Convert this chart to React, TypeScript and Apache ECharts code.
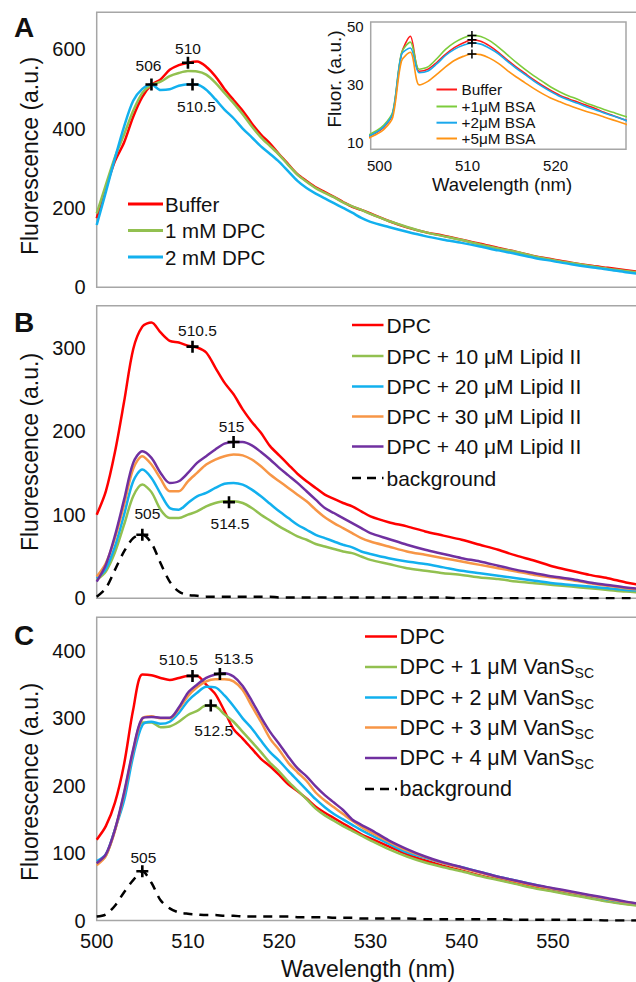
import React, { useEffect, useRef } from "react";
import * as echarts from "echarts";

// ---------- data ----------
const WAVELENGTHS = [
  500, 501, 502, 503, 504, 505, 506, 507, 508, 509, 510, 511, 512, 513, 514, 515,
  516, 517, 518, 519, 520, 521, 522, 523, 524, 525, 526, 527, 528, 529, 530,
  532, 534, 536, 538, 540, 542, 544, 546, 548, 550, 552, 554, 556, 558, 560,
];

// Panel A
const A_BUFFER = [
  174, 250, 318, 365, 430, 480, 510, 524, 548, 560, 566, 569, 556, 532, 500, 472,
  445, 413, 385, 362, 335, 310, 285, 268, 252, 240, 228, 215, 203, 195, 186,
  167, 151, 139, 130, 120, 110, 99, 89, 78, 70, 62, 55, 49, 43, 37,
];
const A_DPC1 = [
  186, 258, 328, 385, 445, 490, 510, 518, 532, 540, 545, 544, 536, 516, 490, 464,
  436, 405, 378, 356, 334, 308, 284, 266, 250, 238, 227, 214, 204, 195, 185,
  167, 152, 139, 129, 119, 108, 98, 89, 78, 69, 61, 54, 47, 41, 35,
];
const A_DPC2 = [
  157, 240, 325, 405, 470, 500, 511, 497, 499, 508, 512, 511, 498, 474, 448, 426,
  400, 378, 355, 336, 316, 292, 268, 250, 236, 224, 212, 200, 188, 175, 165,
  152, 140, 129, 120, 112, 103, 93, 84, 74, 66, 58, 51, 45, 38, 32,
];
const A_PEAK_WL = [506, 510, 510.5];
const A_PEAK_VAL = [511, 566, 511];

// Inset
const INSET_WAVELENGTHS = [
  498.5, 499.5, 500.5, 501.5, 502.5, 503.5, 504.5, 505.5, 506.5, 507.5, 508.5,
  509.5, 510.5, 511.5, 512.5, 513.5, 514.5, 515.5, 516.5, 517.5, 518.5, 519.5,
  520.5, 521.5, 522.5, 523.5, 524.5, 525.5, 526.5, 527.5, 528.5,
];
const INSET_BUFFER = [
  11.8, 13.2, 15.3, 19.8, 40.5, 46.5, 34.5, 35.2, 37.5, 40.3, 42.6, 44.2, 45.2, 44.8,
  43.2, 41, 38.4, 36, 33.8, 31.6, 29.6, 27.8, 26.2, 25, 23.9, 22.8, 21.7, 20.4, 19.3, 18.2, 17.2,
];
const INSET_BSA1 = [
  12.2, 13.8, 16, 20.5, 40.8, 44.5, 35.2, 36, 38.8, 42, 44.3, 45.9, 46.8, 46.4, 45,
  42.8, 40.2, 37.6, 35.2, 33, 31, 29, 27.4, 26, 24.9, 23.5, 22.5, 21.4, 20.4, 19.4, 18.5,
];
const INSET_BSA2 = [
  11.9, 13.3, 15.5, 20, 40.2, 42.5, 34, 34.6, 37, 39.9, 42, 43.4, 44.2, 43.8, 42.4,
  40.5, 38, 35.6, 33.4, 31.2, 29.2, 27.4, 25.8, 24.6, 23.5, 22.3, 21.3, 20.2, 19.2, 18.2, 17,
];
const INSET_BSA5 = [
  11.2, 12.6, 14.5, 18.6, 38, 41, 29.8, 31, 33.4, 36, 38.2, 39.6, 40.4, 40.2, 39,
  37.2, 34.8, 32.6, 30.6, 28.6, 26.8, 25.2, 24, 22.8, 21.7, 20.7, 19.8, 18.8, 17.8, 16.8, 15.8,
];
const INSET_PEAK_WL = [510.5, 510.5, 510.5, 510.5];
const INSET_PEAK_VAL = [46.8, 45.3, 44.2, 40.4];

// Panel B
const B_DPC = [
  100, 128, 175, 235, 298, 325, 330, 318, 308, 306, 302, 300, 294, 276, 258, 244,
  226, 211, 198, 182, 171, 160, 149, 140, 132, 124, 119, 114, 110, 104, 98,
  91, 86, 80, 75, 70, 64, 58, 51, 45, 38, 33, 28, 24, 19, 15,
];
const B_LIPID10 = [
  22, 32, 55, 88, 122, 136, 127, 106, 96, 96, 100, 104, 110, 114, 116, 116,
  114, 108, 100, 93, 86, 80, 74, 70, 65, 62, 59, 56, 54, 50, 46,
  41, 36, 33, 30, 28, 25, 23, 20, 18, 16, 14, 12, 10, 8, 7,
];
const B_LIPID20 = [
  24, 35, 62, 100, 140, 154, 144, 125, 108, 106, 114, 122, 126, 132, 137, 138,
  136, 130, 122, 113, 104, 96, 88, 82, 76, 72, 68, 64, 61, 56, 53,
  48, 44, 41, 37, 33, 30, 27, 24, 21, 18, 16, 14, 12, 10, 9,
];
const B_LIPID30 = [
  26, 42, 72, 112, 155, 170, 160, 143, 128, 128, 140, 150, 160, 166, 170, 172,
  171, 166, 158, 148, 140, 132, 124, 116, 106, 97, 90, 84, 78, 72, 68,
  62, 56, 52, 48, 44, 40, 36, 32, 28, 25, 22, 18, 15, 12, 10,
];
const B_LIPID40 = [
  20, 40, 75, 118, 162, 176, 168, 150, 138, 140, 150, 162, 170, 178, 185, 187,
  187, 183, 175, 166, 156, 147, 138, 128, 118, 108, 102, 96, 90, 84, 78,
  71, 64, 58, 53, 48, 44, 39, 34, 30, 26, 23, 19, 16, 13, 11,
];
const B_BACKGROUND = [
  2, 12, 34, 56, 72, 76, 66, 42, 20, 8, 4, 3, 2, 2, 2, 2,
  2, 2, 2, 2, 1, 1, 1, 1, 1, 1, 1, 1, 1, 1, 1,
  1, 1, 1, 1, 0, 0, 0, 0, 0, 0, 0, 0, 0, 0, 0,
];
const B_PEAK_WL = [510.5, 515, 514.5, 505];
const B_PEAK_VAL = [301, 187, 115, 76];

// Panel C
const C_DPC = [
  120, 140, 175, 232, 313, 365, 364, 360, 357, 360, 363, 363, 350, 336, 311, 284,
  270, 255, 240, 229, 216, 202, 192, 181, 169, 160, 152, 144, 136, 128, 122,
  110, 98, 89, 81, 74, 67, 61, 55, 49, 44, 39, 34, 29, 25, 22,
];
const C_VANS1 = [
  85, 96, 135, 185, 249, 294, 294, 287, 288, 295, 305, 311, 319, 318, 306, 295,
  280, 265, 250, 234, 221, 206, 193, 180, 166, 156, 148, 140, 133, 126, 119,
  106, 95, 86, 79, 73, 66, 60, 54, 48, 43, 38, 33, 28, 24, 21,
];
const C_VANS2 = [
  88, 98, 135, 178, 244, 290, 295, 292, 295, 308, 326, 338, 347, 346, 334, 318,
  300, 285, 267, 250, 237, 222, 208, 194, 180, 168, 158, 150, 142, 134, 127,
  114, 101, 93, 85, 79, 72, 65, 59, 53, 47, 42, 37, 31, 27, 24,
];
const C_VANS3 = [
  82, 96, 133, 188, 252, 300, 303, 300, 300, 314, 333, 346, 355, 358, 358, 355,
  342, 318, 295, 270, 253, 234, 220, 207, 190, 178, 168, 158, 148, 139, 131,
  117, 104, 94, 85, 78, 71, 64, 58, 52, 47, 42, 37, 32, 27, 24,
];
const C_VANS4 = [
  85, 98, 135, 190, 254, 300, 302, 301, 301, 316, 338, 350, 360, 365, 367, 362,
  348, 326, 302, 280, 262, 243, 226, 214, 199, 186, 175, 164, 150, 142, 135,
  119, 106, 95, 86, 79, 72, 65, 59, 53, 48, 43, 38, 33, 28, 24,
];
const C_BACKGROUND = [
  6, 9, 22, 42, 60, 73, 56, 30, 18, 12, 10, 9, 8, 8, 7, 7,
  6, 6, 6, 6, 6, 6, 5, 5, 5, 5, 4, 4, 4, 3, 3,
  3, 3, 2, 2, 2, 2, 2, 1, 1, 1, 1, 1, 0, 0, 0,
];
const C_PEAK_WL = [510.5, 513.5, 512.5, 505];
const C_PEAK_VAL = [363, 366, 319, 73];

// Tick labels
const X_TICKS = [500, 510, 520, 530, 540, 550];
const A_Y_TICKS = [0, 200, 400, 600];
const B_Y_TICKS = [0, 100, 200, 300];
const C_Y_TICKS = [0, 100, 200, 300, 400];
const INSET_X_TICKS = [500, 510, 520];
const INSET_Y_TICKS = [10, 30, 50];

// Legend names
const A_NAMES = ["Buffer", "1 mM DPC", "2 mM DPC"];
const INSET_NAMES = ["Buffer", "+1\u03bcM BSA", "+2\u03bcM BSA", "+5\u03bcM BSA"];
const B_NAMES = [
  "DPC",
  "DPC + 10 \u03bcM Lipid II",
  "DPC + 20 \u03bcM Lipid II",
  "DPC + 30 \u03bcM Lipid II",
  "DPC + 40 \u03bcM Lipid II",
  "background",
];
const C_NAMES = [
  "DPC",
  "DPC + 1 \u03bcM VanS",
  "DPC + 2 \u03bcM VanS",
  "DPC + 3 \u03bcM VanS",
  "DPC + 4 \u03bcM VanS",
  "background",
];

// ---------- styles / layout ----------
const FONT = '"Liberation Sans", Arial, Helvetica, sans-serif';
const TXT = "#111111";
const BORDER = "#a6a6a6";
const RED = "#ff0000";
const GREEN = "#92c050";
const BLUE = "#12b0ee";
const ORANGE = "#f79646";
const PURPLE = "#7030a0";
const BLACK = "#000000";
const I_RED = "#ff1a1a";
const I_GREEN = "#7ccc3c";
const I_BLUE = "#1aa8ec";
const I_ORANGE = "#ff9414";

const PLUS = "path://M4.7,0H7.3V4.7H12V7.3H7.3V12H4.7V7.3H0V4.7H4.7Z";
const PLUS_THIN = "path://M5,0H7V5H12V7H7V12H5V7H0V5H5Z";

const A_LABEL_OFFSETS = [[-3, -19], [0, -14], [4, 22]];
const B_LABEL_OFFSETS = [[5, -16], [-2, -15], [1, 21], [5, -21]];
const C_LABEL_OFFSETS = [[-14, -16], [14, -15], [3, 25], [1, -14]];

function pairs(xs: number[], ys: number[]) {
  return xs.map((x, i) => [x, ys[i]]);
}

function lineSeries(idx: number, xs: number[], ys: number[], color: string, width = 2.5, dashed = false) {
  return {
    type: "line",
    xAxisIndex: idx,
    yAxisIndex: idx,
    data: pairs(xs, ys),
    showSymbol: false,
    symbol: "none",
    smooth: 0.3,
    silent: true,
    lineStyle: { color, width, type: dashed ? [9, 7] : "solid" },
    z: 2,
  };
}

function crossSeries(
  idx: number,
  xs: number[],
  ys: number[],
  offsets: number[][] | null,
  symbol: string,
  size: number,
  fontSize: number
) {
  return {
    type: "scatter",
    xAxisIndex: idx,
    yAxisIndex: idx,
    symbol,
    symbolSize: size,
    silent: true,
    z: 5,
    itemStyle: { color: BLACK, opacity: 1 },
    data: xs.map((x, i) => ({
      value: [x, ys[i]],
      label: offsets ? { offset: offsets[i] } : undefined,
    })),
    label: {
      show: !!offsets,
      position: "inside",
      formatter: (p: any) => String(p.value[0]),
      fontSize,
      fontFamily: FONT,
      color: TXT,
    },
  };
}

function gridBox(left: number, top: number, width: number, height: number, bg = "transparent") {
  return {
    left,
    top,
    width,
    height,
    show: true,
    borderColor: BORDER,
    borderWidth: 1.5,
    backgroundColor: bg,
    containLabel: false,
    outerBoundsMode: "none",
  };
}

function xAxisCfg(idx: number, min: number, max: number, ticks: number[] | null, fontSize: number, margin: number) {
  return {
    type: "value",
    gridIndex: idx,
    min,
    max,
    axisLine: { show: false },
    axisTick: { show: false },
    splitLine: { show: false },
    axisLabel: ticks
      ? { show: true, customValues: ticks, fontSize, fontFamily: FONT, color: TXT, margin }
      : { show: false },
  };
}

function yAxisCfg(idx: number, min: number, max: number, ticks: number[], fontSize: number, margin: number) {
  return {
    type: "value",
    gridIndex: idx,
    min,
    max,
    axisLine: { show: false },
    axisTick: { show: false },
    splitLine: { show: false },
    axisLabel: { show: true, customValues: ticks, fontSize, fontFamily: FONT, color: TXT, margin },
  };
}

function text(x: number, y: number, str: string, fontSize: number, extra: any = {}) {
  return {
    type: "text",
    x,
    y,
    silent: true,
    z: 10,
    rotation: extra.rotation || 0,
    style: {
      text: str,
      fontSize,
      fontFamily: FONT,
      fontWeight: extra.bold ? "bold" : "normal",
      fill: TXT,
      align: extra.align || "left",
      verticalAlign: "middle",
      rich: extra.rich,
    },
  };
}

function legendLine(x1: number, x2: number, y: number, color: string, width = 3, dashed = false) {
  return {
    type: "line",
    silent: true,
    z: 10,
    shape: { x1, y1: y, x2, y2: y },
    style: { stroke: color, lineWidth: width, lineDash: dashed ? [9, 6] : null },
  };
}

export default function App() {
  const ref = useRef<HTMLDivElement>(null);

  useEffect(() => {
    if (!ref.current) return;
    const chart = echarts.init(ref.current, null, { renderer: "svg" });

    const X_MAX = 559.4;
    const MAIN_W = 542;

    const graphic: any[] = [];
    // panel letters
    graphic.push(text(24, 27, "A", 28, { bold: true, align: "center" }));
    graphic.push(text(24, 322, "B", 28, { bold: true, align: "center" }));
    graphic.push(text(24, 635, "C", 28, { bold: true, align: "center" }));
    // axis titles
    graphic.push(text(30, 156, "Fluorescence (a.u.)", 23, { rotation: Math.PI / 2, align: "center" }));
    graphic.push(text(30, 452, "Fluorescence (a.u.)", 23, { rotation: Math.PI / 2, align: "center" }));
    graphic.push(text(30, 782, "Fluorescence (a.u.)", 23, { rotation: Math.PI / 2, align: "center" }));
    graphic.push(text(368, 969, "Wavelength (nm)", 23, { align: "center" }));
    graphic.push(text(334, 79, "Fluor. (a.u.)", 19, { rotation: Math.PI / 2, align: "center" }));
    graphic.push(text(502, 184, "Wavelength (nm)", 18.5, { align: "center" }));

    // legend A
    const aCols = [RED, GREEN, BLUE];
    const aY = [204, 230.5, 257];
    A_NAMES.forEach((n, i) => {
      graphic.push(legendLine(128, 163, aY[i], aCols[i]));
      graphic.push(text(165, aY[i], n, 20.5));
    });
    // inset legend
    const iCols = [I_RED, I_GREEN, I_BLUE, I_ORANGE];
    const iY = [89.5, 106.5, 122.7, 138.5];
    INSET_NAMES.forEach((n, i) => {
      graphic.push(legendLine(436.5, 457, iY[i], iCols[i], 2));
      graphic.push(text(461.5, iY[i], n, 15.3));
    });
    // legend B
    const bCols = [RED, GREEN, BLUE, ORANGE, PURPLE, BLACK];
    const bY = [325, 356, 386.5, 416.5, 446.5, 478];
    B_NAMES.forEach((n, i) => {
      graphic.push(legendLine(352, 383.5, bY[i], bCols[i], 2.5, i === 5));
      graphic.push(text(386.5, bY[i], n, 21));
    });
    // legend C
    const cY = [636.5, 667, 697.5, 727.5, 758, 789];
    C_NAMES.forEach((n, i) => {
      graphic.push(legendLine(365, 397, cY[i], bCols[i], 2.5, i === 5));
      if (i >= 1 && i <= 4) {
        graphic.push(
          text(399.5, cY[i], "{n|" + n + "}{s|SC}", 21.5, {
            rich: {
              n: { fontSize: 21.5, fontFamily: FONT, fill: TXT },
              s: { fontSize: 14, fontFamily: FONT, fill: TXT, padding: [12, 0, 0, 0] },
            },
          })
        );
      } else {
        graphic.push(text(399.5, cY[i], n, 21.5));
      }
    });

    const option: any = {
      animation: false,
      backgroundColor: "#ffffff",
      grid: [
        gridBox(96.7, 12.3, MAIN_W, 275),
        gridBox(370.7, 22, 255.3, 127.3, "#ffffff"),
        gridBox(96.7, 305.7, MAIN_W, 292.6),
        gridBox(96.7, 617.3, MAIN_W, 303.2),
      ],
      xAxis: [
        xAxisCfg(0, 500, X_MAX, null, 20, 10),
        xAxisCfg(1, 499, 528, INSET_X_TICKS, 15, 9),
        xAxisCfg(2, 500, X_MAX, null, 20, 10),
        xAxisCfg(3, 500, X_MAX, X_TICKS, 20, 10),
      ],
      yAxis: [
        yAxisCfg(0, 0, 693, A_Y_TICKS, 20, 11),
        yAxisCfg(1, 7.7, 51.4, INSET_Y_TICKS, 15, 7),
        yAxisCfg(2, 0, 350, B_Y_TICKS, 20, 11),
        yAxisCfg(3, 0, 450, C_Y_TICKS, 20, 11),
      ],
      series: [
        lineSeries(0, WAVELENGTHS, A_BUFFER, RED),
        lineSeries(0, WAVELENGTHS, A_DPC1, GREEN),
        lineSeries(0, WAVELENGTHS, A_DPC2, BLUE),
        crossSeries(0, A_PEAK_WL, A_PEAK_VAL, A_LABEL_OFFSETS, PLUS, 12, 15.5),

        lineSeries(1, INSET_WAVELENGTHS, INSET_BUFFER, I_RED, 1.6),
        lineSeries(1, INSET_WAVELENGTHS, INSET_BSA1, I_GREEN, 1.6),
        lineSeries(1, INSET_WAVELENGTHS, INSET_BSA2, I_BLUE, 1.6),
        lineSeries(1, INSET_WAVELENGTHS, INSET_BSA5, I_ORANGE, 1.6),
        crossSeries(1, INSET_PEAK_WL, INSET_PEAK_VAL, null, PLUS_THIN, 9, 12),

        lineSeries(2, WAVELENGTHS, B_DPC, RED),
        lineSeries(2, WAVELENGTHS, B_LIPID10, GREEN),
        lineSeries(2, WAVELENGTHS, B_LIPID20, BLUE),
        lineSeries(2, WAVELENGTHS, B_LIPID30, ORANGE),
        lineSeries(2, WAVELENGTHS, B_LIPID40, PURPLE),
        lineSeries(2, WAVELENGTHS, B_BACKGROUND, BLACK, 2.5, true),
        crossSeries(2, B_PEAK_WL, B_PEAK_VAL, B_LABEL_OFFSETS, PLUS, 12, 15.5),

        lineSeries(3, WAVELENGTHS, C_DPC, RED),
        lineSeries(3, WAVELENGTHS, C_VANS1, GREEN),
        lineSeries(3, WAVELENGTHS, C_VANS2, BLUE),
        lineSeries(3, WAVELENGTHS, C_VANS3, ORANGE),
        lineSeries(3, WAVELENGTHS, C_VANS4, PURPLE),
        lineSeries(3, WAVELENGTHS, C_BACKGROUND, BLACK, 2.5, true),
        crossSeries(3, C_PEAK_WL, C_PEAK_VAL, C_LABEL_OFFSETS, PLUS, 12, 15.5),
      ],
      graphic,
    };

    chart.setOption(option);
    return () => {
      chart.dispose();
    };
  }, []);

  return (
    <div
      ref={ref}
      style={{ position: "absolute", left: 0, top: 0, width: 636, height: 982, background: "#fff" }}
    />
  );
}
